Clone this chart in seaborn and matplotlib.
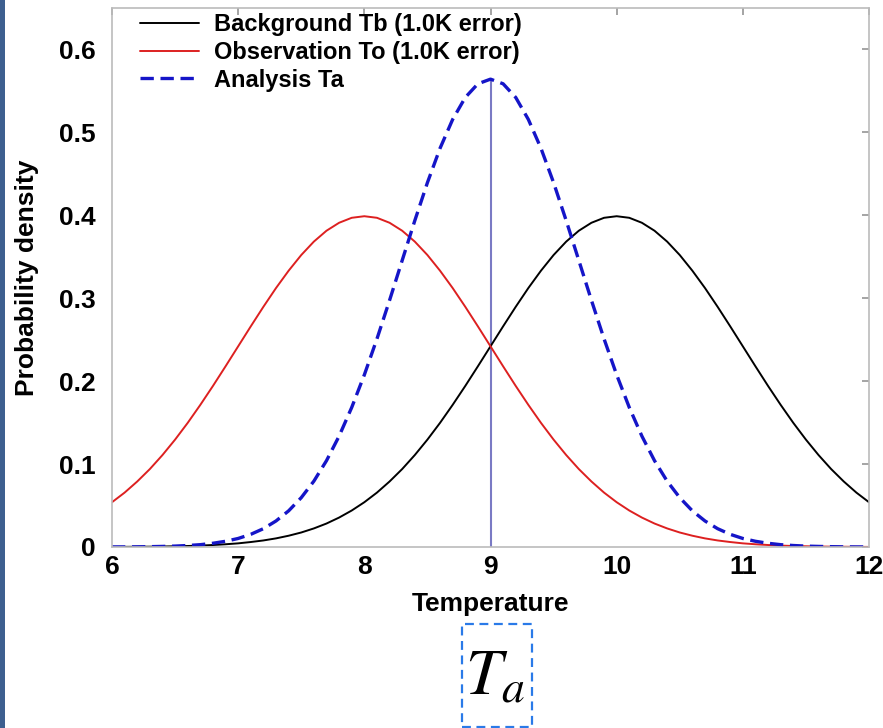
import numpy as np
import pandas as pd
import matplotlib
matplotlib.use("Agg")
import matplotlib.pyplot as plt
import seaborn as sns
from matplotlib.patches import Rectangle

# temperature grid (read every 0.1 K from the picture)
temperature = [round(6 + 0.1 * i, 1) for i in range(61)]

# Background Tb, peak at 10
background = [0.0001, 0.0002, 0.0003, 0.0004, 0.0006, 0.0009, 0.0012, 0.0017, 0.0024, 0.0033,
              0.0044, 0.0060, 0.0079, 0.0104, 0.0136, 0.0175, 0.0224, 0.0283, 0.0355, 0.0440,
              0.0540, 0.0656, 0.0790, 0.0940, 0.1109, 0.1295, 0.1497, 0.1714, 0.1942, 0.2179,
              0.2420, 0.2661, 0.2897, 0.3123, 0.3332, 0.3521, 0.3683, 0.3814, 0.3910, 0.3970,
              0.3989, 0.3970, 0.3910, 0.3814, 0.3683, 0.3521, 0.3332, 0.3123, 0.2897, 0.2661,
              0.2420, 0.2179, 0.1942, 0.1714, 0.1497, 0.1295, 0.1109, 0.0940, 0.0790, 0.0656,
              0.0540]

# Observation To, peak at 8
observation = background[::-1]

# Analysis Ta, peak at 9
analysis = [0.0001, 0.0001, 0.0002, 0.0004, 0.0007, 0.0011, 0.0018, 0.0028, 0.0045, 0.0069,
            0.0103, 0.0153, 0.0221, 0.0314, 0.0436, 0.0595, 0.0794, 0.1041, 0.1337, 0.1683,
            0.2076, 0.2510, 0.2975, 0.3456, 0.3936, 0.4394, 0.4808, 0.5156, 0.5421, 0.5586,
            0.5642, 0.5586, 0.5421, 0.5156, 0.4808, 0.4394, 0.3936, 0.3456, 0.2975, 0.2510,
            0.2076, 0.1683, 0.1337, 0.1041, 0.0794, 0.0595, 0.0436, 0.0314, 0.0221, 0.0153,
            0.0103, 0.0069, 0.0045, 0.0028, 0.0018, 0.0011, 0.0007, 0.0004, 0.0002, 0.0001,
            0.0001]

analysis_mean = 9.0
analysis_peak = 0.5642

labels = ["Background Tb (1.0K error)", "Observation To (1.0K error)", "Analysis Ta"]
x_ticks = [6, 7, 8, 9, 10, 11, 12]
y_ticks = [0, 0.1, 0.2, 0.3, 0.4, 0.5, 0.6]
y_tick_labels = ["0", "0.1", "0.2", "0.3", "0.4", "0.5", "0.6"]

sns.set_theme(style="white")
plt.rcParams["font.family"] = ["Liberation Sans", "DejaVu Sans"]
plt.rcParams["text.color"] = "black"
plt.rcParams["axes.labelcolor"] = "black"
plt.rcParams["xtick.labelcolor"] = "black"
plt.rcParams["ytick.labelcolor"] = "black"

df = pd.DataFrame({"Temperature": temperature * 3,
                   "density": background + observation + analysis,
                   "series": [labels[0]] * 61 + [labels[1]] * 61 + [labels[2]] * 61})

fig = plt.figure(figsize=(8.83, 7.28), dpi=100)
ax = fig.add_axes([112 / 883, 1 - 547 / 728, (869 - 112) / 883, (547 - 8) / 728])

ax.vlines(analysis_mean, 0, analysis_peak, color="#7a7ac4", lw=1.5, zorder=1)

sns.lineplot(data=df[df.series == labels[0]], x="Temperature", y="density", ax=ax,
             color="black", lw=1.4, label=labels[0])
sns.lineplot(data=df[df.series == labels[1]], x="Temperature", y="density", ax=ax,
             color="#dd2020", lw=1.4, label=labels[1])
sns.lineplot(data=df[df.series == labels[2]], x="Temperature", y="density", ax=ax,
             color="#1515c8", lw=2.4, label=labels[2], dashes=False)
ax.lines[-1].set_dashes([4, 2])

ax.set_xlim(6, 12)
ax.set_ylim(0, 0.65)
ax.set_xticks(x_ticks)
ax.set_xticklabels([str(t) for t in x_ticks], fontsize=19, fontweight="bold")
ax.set_yticks(y_ticks)
ax.set_yticklabels(y_tick_labels, fontsize=19, fontweight="bold")
ax.tick_params(axis="x", direction="in", top=True, length=5, color="#999999", pad=6)
ax.tick_params(axis="y", direction="in", right=True, length=5, color="#999999", pad=12)
for s in ax.spines.values():
    s.set_color("#bbbbbb")
    s.set_linewidth(1.2)

ax.set_xlabel("Temperature", fontsize=19, fontweight="bold")
ax.xaxis.set_label_coords(0.5, -0.083)
ax.set_ylabel("Probability density", fontsize=19, fontweight="bold")
ax.yaxis.set_label_coords(-0.097, 0.5)

leg = ax.legend(loc="upper left", frameon=False, fontsize=17, handlelength=2.5,
                handletextpad=0.6, borderaxespad=0.0, labelspacing=0.2,
                bbox_to_anchor=(0.025, 1.008))
for t in leg.get_texts():
    t.set_fontweight("bold")

# dashed box with T_a under the axis
fig.patches.append(Rectangle((462 / 883, 1 - 727 / 728), 70 / 883, 103 / 728,
                             transform=fig.transFigure, fill=False, ec="#2a7ae8",
                             lw=1.6, ls=(0, (4, 2.5))))
fig.text(495 / 883, 1 - 678 / 728, r"$T_a$", fontsize=47, ha="center", va="center",
         math_fontfamily="stix")

# slide edge strip on the left
fig.patches.append(Rectangle((0, 0), 5 / 883, 1, transform=fig.transFigure,
                             color="#3d5f8f", lw=0))

fig.savefig("out.png", dpi=100)
